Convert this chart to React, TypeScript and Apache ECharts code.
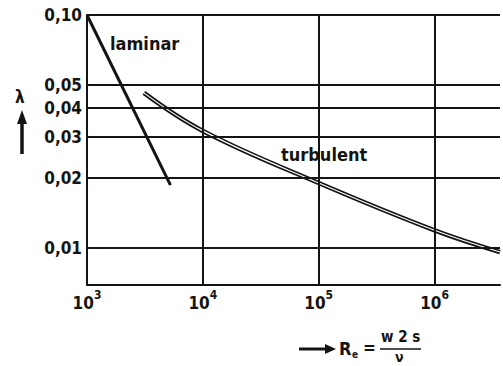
import React, { useEffect, useRef } from "react";
import * as echarts from "echarts";

// Reynolds number axis (log) and friction factor axis (log)
const reynoldsTicks = [1e3, 1e4, 1e5, 1e6];
const reynoldsTickExponents = ["3", "4", "5", "6"];
const reynoldsMin = 1000;
const reynoldsMax = 3.67e6;

const lambdaGridValues = [0.1, 0.05, 0.04, 0.03, 0.02, 0.015, 0.01];
const lambdaGridLabels = ["0,10", "0,05", "0,04", "0,03", "0,02", "", "0,01"];
const lambdaMin = 0.00693;
const lambdaMax = 0.1;

// laminar branch
const laminarRe = [1000, 5250];
const laminarLambda = [0.1, 0.0186];

// turbulent branch (smooth pipe)
const turbulentRe = [3100, 10000, 100000, 1000000, 3670000];
const turbulentLambda = [0.0463, 0.0318, 0.019, 0.0119, 0.0096];

const FONT = "'DejaVu Sans Condensed', 'DejaVu Sans', sans-serif";
const INK = "#141414";

export default function App() {
  const ref = useRef<HTMLDivElement>(null);

  useEffect(() => {
    if (!ref.current) return;
    const chart = echarts.init(ref.current, undefined, { renderer: "svg" });

    const laminar = laminarRe.map((r, i) => [r, laminarLambda[i]]);
    const turbulent = turbulentRe.map((r, i) => [r, turbulentLambda[i]]);

    const hLines = lambdaGridValues.map((v, i) => ({
      yAxis: v,
      label: {
        show: lambdaGridLabels[i] !== "",
        position: "start" as const,
        formatter: lambdaGridLabels[i],
        distance: 5,
        fontFamily: FONT,
        fontWeight: "bold" as const,
        fontSize: 17,
        color: INK,
      },
    }));
    const vLines = reynoldsTicks.map((v) => ({ xAxis: v, label: { show: false } }));

    const supMap: Record<string, string> = {};
    reynoldsTicks.forEach((t, i) => {
      supMap[String(Math.round(Math.log10(t)))] = reynoldsTickExponents[i];
    });

    chart.setOption({
      animation: false,
      backgroundColor: "#ffffff",
      grid: { left: 87, top: 15, right: 0, bottom: 81, containLabel: false },
      xAxis: {
        type: "log",
        logBase: 10,
        min: reynoldsMin,
        max: reynoldsMax,
        axisLine: { show: true, lineStyle: { color: INK, width: 2 } },
        axisTick: { show: false },
        splitLine: { show: false },
        axisLabel: {
          margin: 4,
          formatter: (v: number) => {
            const e = Math.log10(v);
            const r = Math.round(e);
            if (Math.abs(e - r) > 1e-6) return "";
            const s = supMap[String(r)];
            if (s === undefined) return "";
            return `{b|10}{s|${s}}`;
          },
          rich: {
            b: {
              fontFamily: FONT,
              fontWeight: "bold",
              fontSize: 17,
              color: INK,
              lineHeight: 22,
              verticalAlign: "bottom",
            },
            s: {
              fontFamily: FONT,
              fontWeight: "bold",
              fontSize: 12,
              color: INK,
              lineHeight: 22,
              verticalAlign: "top",
            },
          },
        },
      },
      yAxis: {
        type: "log",
        logBase: 10,
        min: lambdaMin,
        max: lambdaMax,
        axisLine: { show: true, lineStyle: { color: INK, width: 2 } },
        axisTick: { show: false },
        axisLabel: { show: false },
        splitLine: { show: false },
      },
      series: [
        {
          type: "line",
          name: "grid",
          data: [],
          silent: true,
          markLine: {
            silent: true,
            symbol: ["none", "none"],
            lineStyle: { color: INK, width: 2, type: "solid" },
            data: [...hLines, ...vLines],
          },
        },
        {
          type: "line",
          name: "laminar",
          data: laminar,
          showSymbol: false,
          lineStyle: { color: INK, width: 3 },
        },
        {
          type: "line",
          name: "turbulent",
          data: turbulent,
          smooth: 0.4,
          showSymbol: false,
          lineStyle: { color: INK, width: 4.5 },
        },
        {
          type: "line",
          name: "turbulent-inner",
          data: turbulent,
          smooth: 0.4,
          showSymbol: false,
          lineStyle: { color: "#ffffff", width: 1.2 },
        },
      ],
      graphic: [
        {
          type: "text",
          left: 110,
          top: 34,
          style: { text: "laminar", font: `bold 18px ${FONT}`, fill: INK },
        },
        {
          type: "text",
          left: 281,
          top: 145,
          style: { text: "turbulent", font: `bold 18px ${FONT}`, fill: INK },
        },
        {
          type: "text",
          left: 15,
          top: 88,
          style: { text: "λ", font: `bold 17px ${FONT}`, fill: INK },
        },
        {
          type: "line",
          shape: { x1: 22, y1: 154, x2: 22, y2: 120 },
          style: { stroke: INK, lineWidth: 3.5 },
        },
        {
          type: "polygon",
          shape: { points: [[17, 124], [22, 110], [27, 124]] },
          style: { fill: INK },
        },
        {
          type: "line",
          shape: { x1: 299, y1: 349, x2: 328, y2: 349 },
          style: { stroke: INK, lineWidth: 3 },
        },
        {
          type: "polygon",
          shape: { points: [[325, 344], [336, 349], [325, 354]] },
          style: { fill: INK },
        },
        {
          type: "text",
          left: 339,
          top: 339,
          style: { text: "R", font: `bold 18px ${FONT}`, fill: INK },
        },
        {
          type: "text",
          left: 352,
          top: 349,
          style: { text: "e", font: `bold 10px ${FONT}`, fill: INK },
        },
        {
          type: "text",
          left: 363,
          top: 339,
          style: { text: "=", font: `bold 17px ${FONT}`, fill: INK },
        },
        {
          type: "text",
          left: 381,
          top: 329,
          style: { text: "w 2 s", font: `bold 15px ${FONT}`, fill: INK },
        },
        {
          type: "line",
          shape: { x1: 380, y1: 349, x2: 421, y2: 349 },
          style: { stroke: INK, lineWidth: 1.5 },
        },
        {
          type: "text",
          left: 395,
          top: 350,
          style: { text: "ν", font: `bold 14px ${FONT}`, fill: INK },
        },
      ],
    });

    return () => chart.dispose();
  }, []);

  return (
    <div
      ref={ref}
      style={{ position: "fixed", left: 0, top: 0, width: 503, height: 366, background: "#fff" }}
    />
  );
}
